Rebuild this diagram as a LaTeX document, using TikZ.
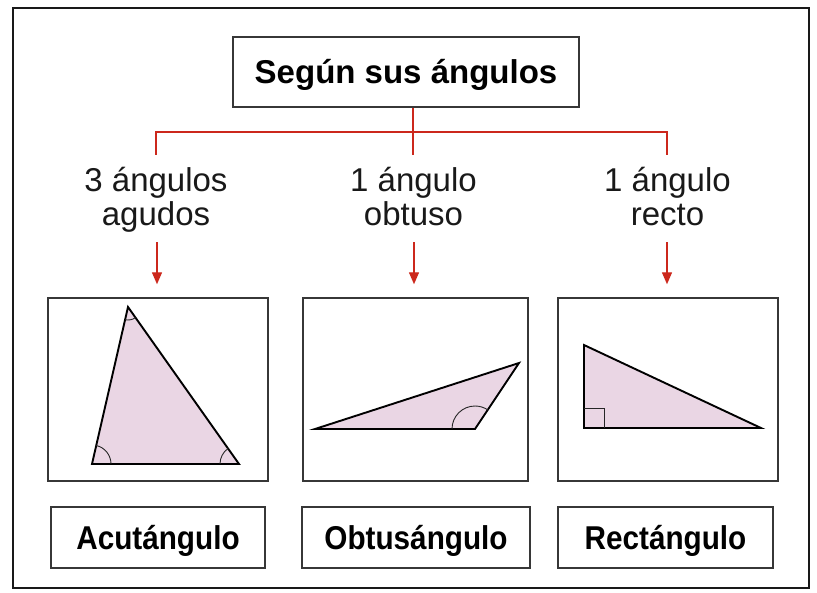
\documentclass[tikz,border=0pt]{standalone}
\usepackage{fontspec}
\setmainfont{Liberation Sans}
\newfontfamily\labfont[FakeStretch=0.9]{Liberation Sans}
\usetikzlibrary{arrows.meta}
\definecolor{redline}{RGB}{204,40,28}
\definecolor{trifill}{RGB}{234,214,228}
\definecolor{boxline}{RGB}{55,55,55}
\begin{document}
\begin{tikzpicture}[x=1pt,y=-1pt,
  frame/.style={draw=black!90, line width=2.6pt},
  titlebox/.style={draw=boxline, line width=1.5pt, minimum width=346pt, minimum height=70pt,
    text height=23.7pt, text depth=0pt, inner sep=0pt, font=\fontsize{33}{33}\selectfont\bfseries},
  labbox/.style={draw=boxline, line width=1.5pt, minimum height=61pt,
    text height=23.7pt, text depth=0pt, inner sep=0pt, font=\labfont\fontsize{33}{33}\selectfont\bfseries},
  tribox/.style={draw=boxline, line width=1.5pt, minimum height=183pt, inner sep=0pt},
  branch/.style={align=center, inner sep=0pt, font=\fontsize{33}{33.5}\selectfont, text=black!90},
  tree/.style={draw=redline, line width=1.4pt},
  redarrow/.style={draw=redline, line width=1.4pt, -{Triangle[width=10pt,length=12pt]}, fill=redline},
  tri/.style={draw=black, fill=trifill, line width=1.9pt, line join=miter},
  anglemark/.style={draw=black!85, line width=0.9pt}]
\useasboundingbox (0,0) rectangle (817,592);
\fill[white] (0,0) rectangle (817,592);
\draw[frame] (13,8) rectangle (809,588);

% title and tree
\node[titlebox] (title) at (406,72) {Según sus ángulos};
\coordinate (jl) at (156,132);
\coordinate (jm) at (413,132);
\coordinate (jr) at (667,132);
\coordinate (dl) at (156,155);
\coordinate (dm) at (413,155);
\coordinate (dr) at (667,155);
\draw[tree] (title.south -| jm) -- (jm);
\draw[tree, line cap=rect] (jl) -- (jr);
\draw[tree] (jl) -- (dl);
\draw[tree] (jm) -- (dm);
\draw[tree] (jr) -- (dr);

% branch texts (base = baseline of the last line)
\node[branch, anchor=base] (t1) at (156,225) {3 ángulos\\agudos};
\node[branch, anchor=base] (t2) at (413.5,225) {1 ángulo\\obtuso};
\node[branch, anchor=base] (t3) at (667.5,225) {1 ángulo\\recto};

% triangle boxes
\node[tribox, minimum width=220pt] (b1) at (158,389.5) {};
\node[tribox, minimum width=225pt] (b2) at (415.5,389.5) {};
\node[tribox, minimum width=220pt] (b3) at (668,389.5) {};

% arrows
\coordinate (a1) at (157,242);
\coordinate (a2) at (414,242);
\coordinate (a3) at (667,242);
\draw[redarrow, shorten >=13pt] (a1) -- (a1 |- b1.north);
\draw[redarrow, shorten >=13pt] (a2) -- (a2 |- b2.north);
\draw[redarrow, shorten >=13pt] (a3) -- (a3 |- b3.north);

% acute triangle
\coordinate (p) at (128,307);
\coordinate (q) at (92,464);
\coordinate (r) at (239,464);
\draw[tri] (p) -- (q) -- (r) -- cycle;
\draw[anglemark] (q) ++(-77.1:19) arc[start angle=-77.1, end angle=0, radius=19];
\draw[anglemark] (r) ++(180:19) arc[start angle=180, end angle=234.7, radius=19];
\draw[anglemark] (p) ++(54.7:13) arc[start angle=54.7, end angle=102.9, radius=13];

% obtuse triangle
\coordinate (oa) at (315,429);
\coordinate (ob) at (475,429);
\coordinate (oc) at (519,363);
\draw[tri] (oa) -- (ob) -- (oc) -- cycle;
\draw[anglemark] (ob) ++(180:23) arc[start angle=180, end angle=303.7, radius=23];

% right triangle
\coordinate (ra) at (584,345);
\coordinate (rb) at (584,428);
\coordinate (rc) at (761,428);
\draw[tri] (ra) -- (rb) -- (rc) -- cycle;
\draw[anglemark] (584,408) -| (604,428);

% labels
\node[labbox, minimum width=214pt] (l1) at (158,537.5) {Acutángulo};
\node[labbox, minimum width=228pt] (l2) at (416,537.5) {Obtusángulo};
\node[labbox, minimum width=215pt] (l3) at (665.5,537.5) {Rectángulo};
\end{tikzpicture}
\end{document}
